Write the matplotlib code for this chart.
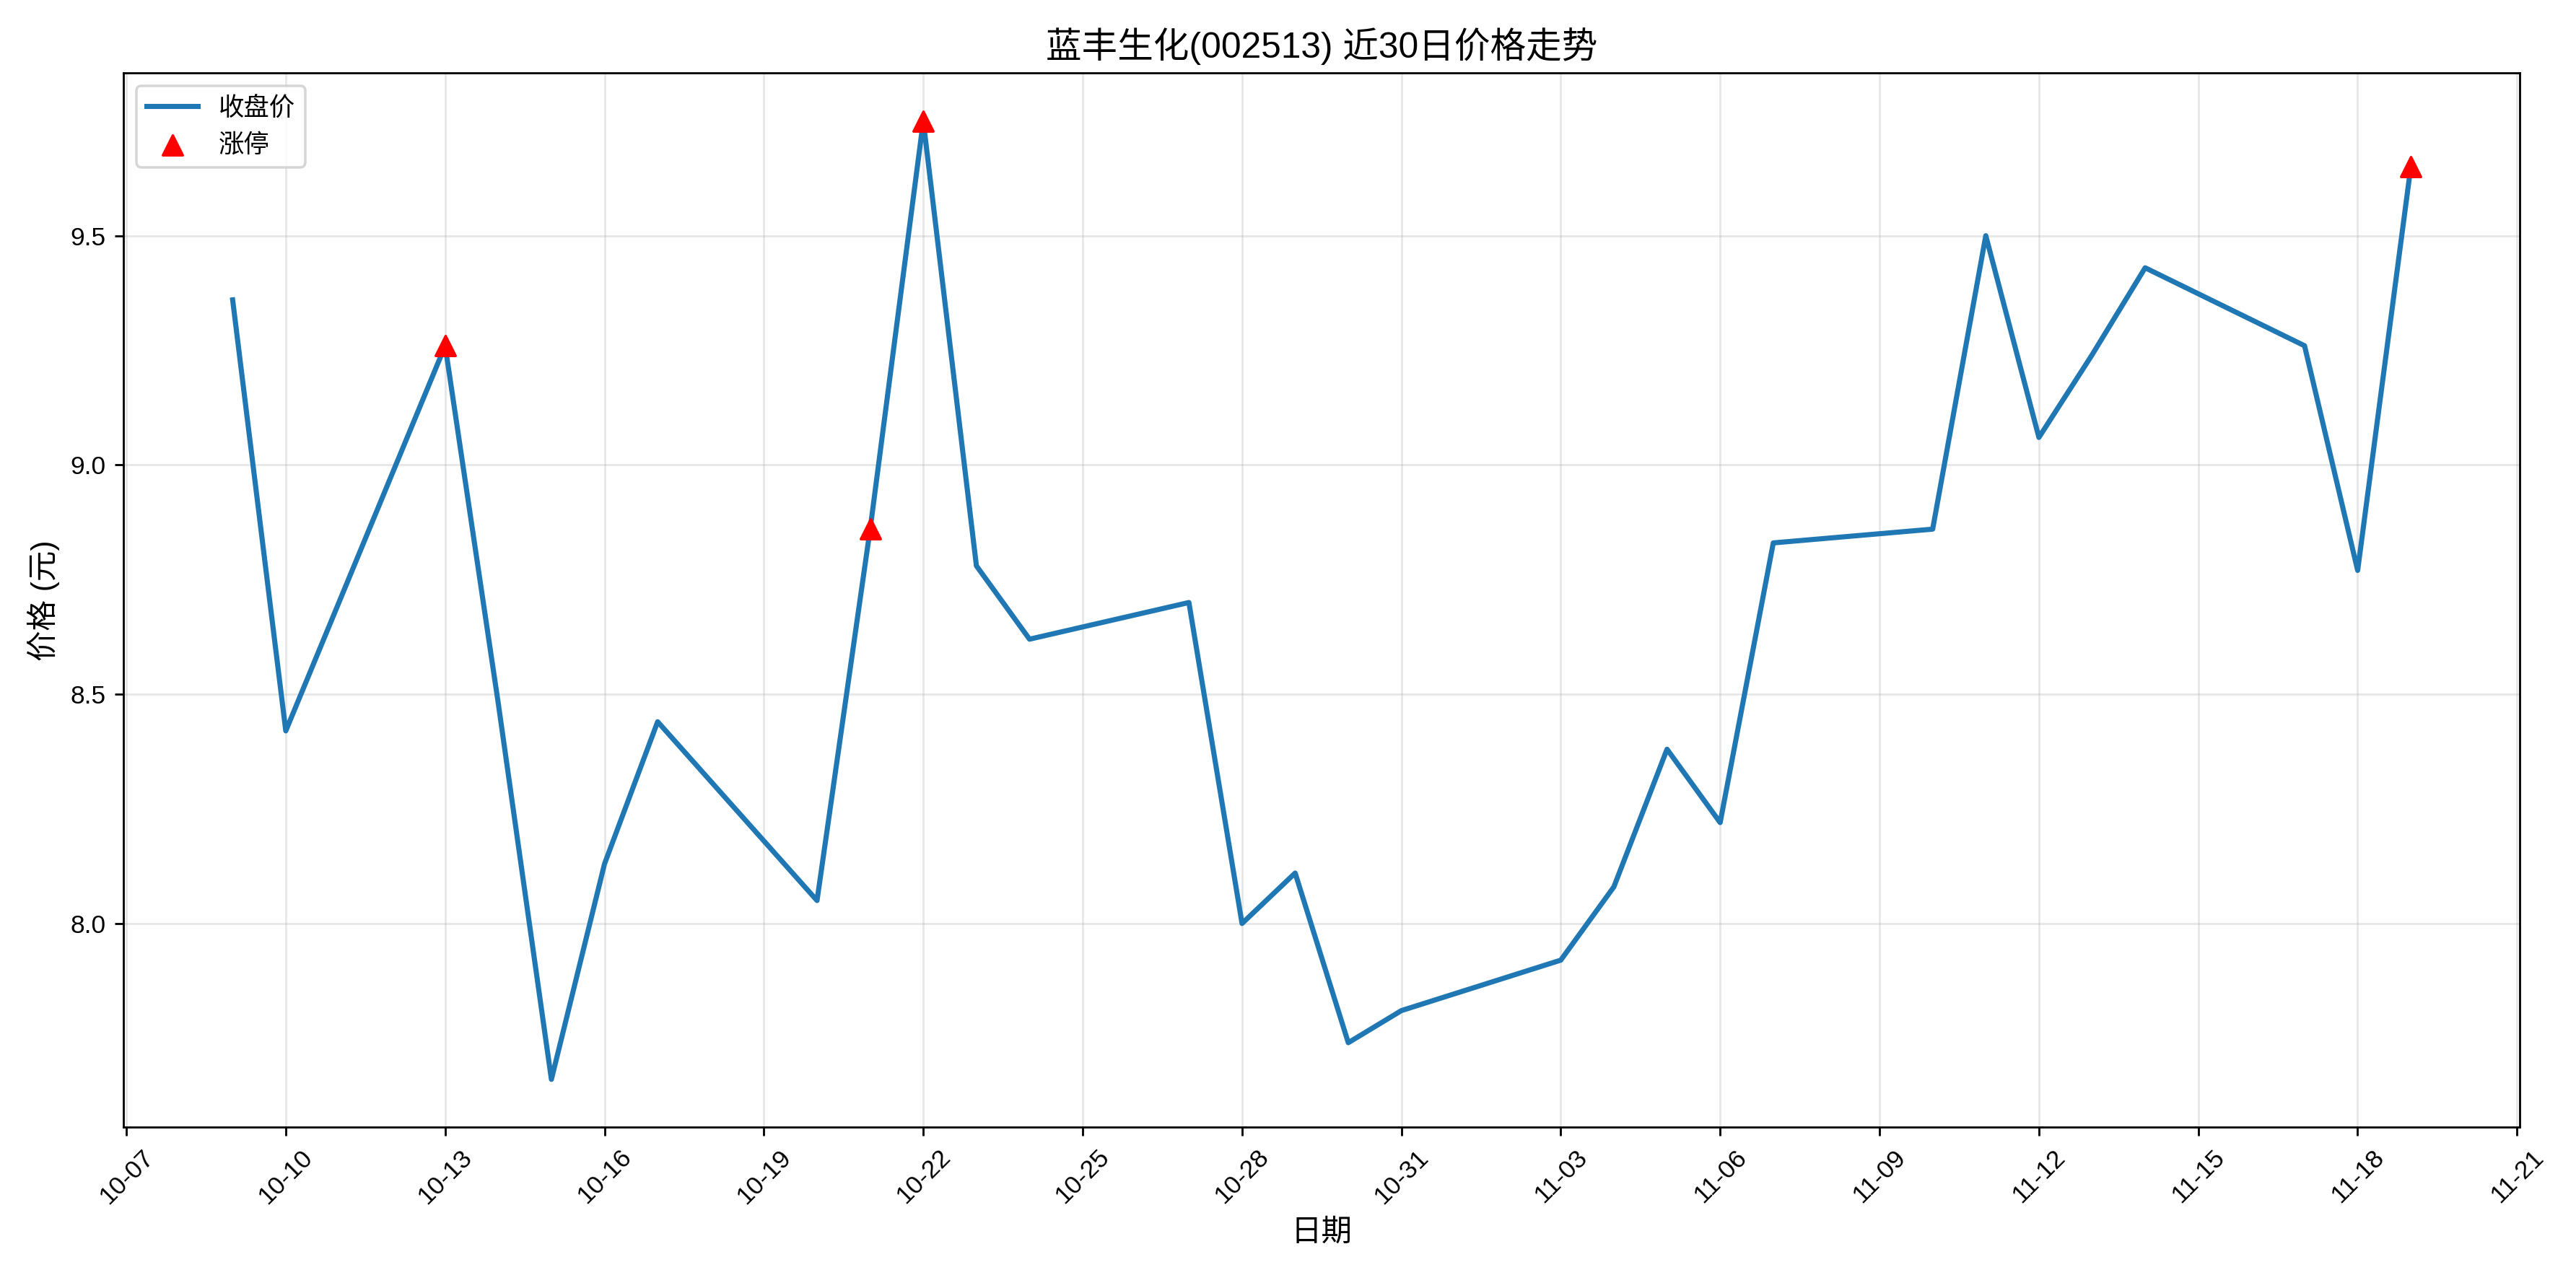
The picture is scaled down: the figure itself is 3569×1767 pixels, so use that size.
import matplotlib
matplotlib.use('Agg')
import matplotlib.pyplot as plt
import matplotlib.dates as mdates
import pandas as pd

plt.rcParams['font.family'] = ['Liberation Sans', 'Noto Sans CJK SC', 'DejaVu Sans']
plt.rcParams['axes.unicode_minus'] = False

dates = ['2025-10-09', '2025-10-10', '2025-10-13', '2025-10-14', '2025-10-15', '2025-10-16',
         '2025-10-17', '2025-10-20', '2025-10-21', '2025-10-22', '2025-10-23', '2025-10-24',
         '2025-10-27', '2025-10-28', '2025-10-29', '2025-10-30', '2025-10-31', '2025-11-03',
         '2025-11-04', '2025-11-05', '2025-11-06', '2025-11-07', '2025-11-10', '2025-11-11',
         '2025-11-12', '2025-11-13', '2025-11-14', '2025-11-17', '2025-11-18', '2025-11-19']
close = [9.36, 8.42, 9.26, 8.48, 7.66, 8.13,
         8.44, 8.05, 8.86, 9.75, 8.78, 8.62,
         8.70, 8.00, 8.11, 7.74, 7.81, 7.92,
         8.08, 8.38, 8.22, 8.83, 8.86, 9.50,
         9.06, 9.24, 9.43, 9.26, 8.77, 9.65]
limit_up_dates = ['2025-10-13', '2025-10-21', '2025-10-22', '2025-11-19']

df = pd.DataFrame({'date': pd.to_datetime(dates), 'close': close})
up = df[df['date'].isin(pd.to_datetime(limit_up_dates))]

fig, ax = plt.subplots(figsize=(3569 / 255, 1767 / 255), dpi=255)
ax.plot(df['date'], df['close'], color='#1f77b4', linewidth=2, label='收盘价')
ax.scatter(up['date'], up['close'], color='red', marker='^', s=60, zorder=5, label='涨停')

ax.set_xticks(pd.date_range('2025-10-07', '2025-11-21', freq='3D'))
ax.xaxis.set_major_formatter(mdates.DateFormatter('%m-%d'))
plt.setp(ax.get_xticklabels(), rotation=45)
ax.set_title('蓝丰生化(002513) 近30日价格走势', fontsize=14)
ax.set_xlabel('日期', fontsize=12)
ax.set_ylabel('价格 (元)', fontsize=12)
ax.grid(True, alpha=0.3)
ax.legend(loc='upper left')
fig.tight_layout()
fig.savefig('out.png', dpi=255)
